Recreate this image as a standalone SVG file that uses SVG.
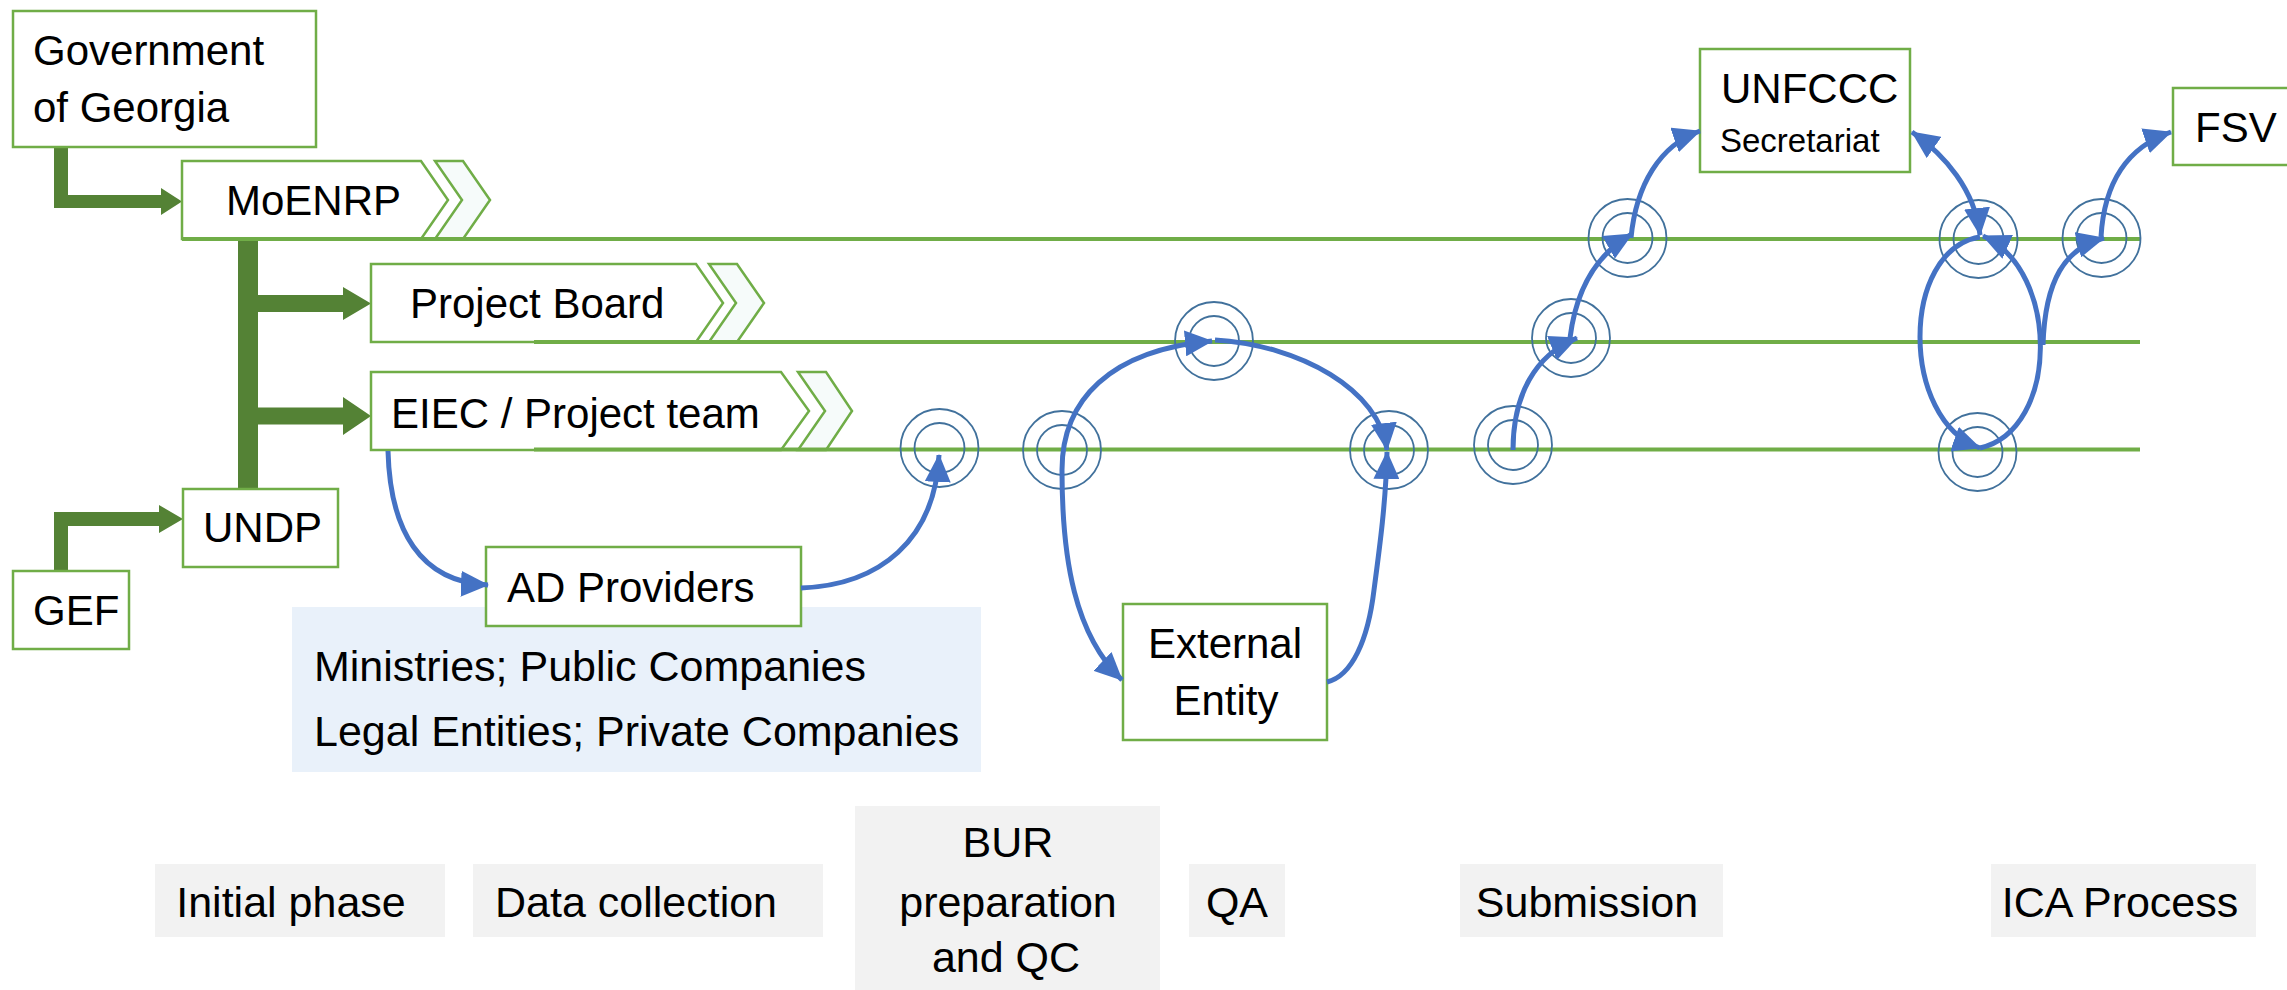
<svg xmlns="http://www.w3.org/2000/svg" width="2287" height="990" viewBox="0 0 2287 990">
<style>
.t{font-family:"Liberation Sans",Arial,sans-serif;font-size:42px;fill:#000}
.t43{font-size:43px}
.box{fill:#fff;stroke:#70AD47;stroke-width:2.5}
.chev{fill:#F6FBFA;stroke:#70AD47;stroke-width:2.5}
.lane{stroke:#70AD47;stroke-width:4;fill:none}
.phase{fill:#F2F2F2}
.dg{fill:#548235}
.ms{fill:none;stroke:#41719C;stroke-width:1.8}
.con{fill:none;stroke:#4472C4;stroke-width:5}
</style>
<defs>
<marker id="ah" viewBox="0 0 28 26" markerWidth="28" markerHeight="26" refX="27" refY="13" orient="auto-start-reverse" markerUnits="userSpaceOnUse">
<path d="M0,0 L28,13 L0,26 Z" fill="#4472C4"/>
</marker>
</defs>

<!-- phases -->
<g id="phases">
<rect class="phase" x="155" y="864" width="290" height="73"/>
<rect class="phase" x="473" y="864" width="350" height="73"/>
<rect class="phase" x="855" y="806" width="305" height="184"/>
<rect class="phase" x="1189" y="864" width="96" height="73"/>
<rect class="phase" x="1460" y="864" width="263" height="73"/>
<rect class="phase" x="1991" y="864" width="265" height="73"/>
<text class="t t43" x="291" y="917" text-anchor="middle">Initial phase</text>
<text class="t t43" x="636" y="917" text-anchor="middle">Data collection</text>
<text class="t t43" x="1008" y="857" text-anchor="middle">BUR</text>
<text class="t t43" x="1008" y="917" text-anchor="middle">preparation</text>
<text class="t t43" x="1006" y="972" text-anchor="middle">and QC</text>
<text class="t t43" x="1237" y="917" text-anchor="middle">QA</text>
<text class="t t43" x="1587" y="917" text-anchor="middle">Submission</text>
<text class="t t43" x="2120" y="917" text-anchor="middle">ICA Process</text>
</g>

<g id="ad-list">
<rect x="292" y="607" width="689" height="165" fill="#E9F1FA"/>
<text class="t t43" x="314" y="681">Ministries; Public Companies</text>
<text class="t t43" x="314" y="746">Legal Entities; Private Companies</text>
</g>

<!-- hierarchy arrows -->
<g id="hierarchy">
<path class="dg" d="M54,147 H68 V195 H161 V188 L182,201.5 L161,215 V208 H54 Z"/>
<rect class="dg" x="238" y="239" width="20" height="250"/>
<path class="dg" d="M258,295 H343 V287 L371,303.5 L343,320 V312 H258 Z"/>
<path class="dg" d="M258,407.5 H343 V397 L371,416 L343,435 V424.5 H258 Z"/>
<path class="dg" d="M54,571 V512 H159 V505 L183,519 L159,533 V526 H68 V571 Z"/>
</g>

<g id="gov"><rect class="box" x="13" y="11" width="303" height="136"/>
<text class="t" x="33" y="65">Government</text><text class="t" x="33" y="122">of Georgia</text></g>

<g id="moenrp">
<path class="box" d="M182,161 H421 L448,200 L421,239 H182 Z"/>
<path class="chev" d="M435,161 H463 L490,200 L463,239 H435 L462,200 Z"/>
<text class="t" x="226" y="215">MoENRP</text></g>

<g id="project-board">
<path class="box" d="M371,264 H696 L723,303 L696,342 H371 Z"/>
<path class="chev" d="M709,264 H737 L764,303 L737,342 H709 L736,303 Z"/>
<text class="t" x="410" y="318">Project Board</text></g>

<g id="eiec">
<path class="box" d="M371,372 H781 L809,411 L781,450 H371 Z"/>
<path class="chev" d="M798,372 H826 L852,411 L826,450 H798 L825,411 Z"/>
<text class="t" x="391" y="428">EIEC / Project team</text></g>

<g id="lanes">
<line class="lane" x1="182" y1="239" x2="2140" y2="239"/>
<line class="lane" x1="534" y1="342" x2="2140" y2="342"/>
<line class="lane" x1="534" y1="449.5" x2="2140" y2="449.5"/>
</g>

<g id="undp"><rect class="box" x="183" y="489" width="155" height="78"/><text class="t" x="203" y="542">UNDP</text></g>
<g id="gef"><rect class="box" x="13" y="571" width="116" height="78"/><text class="t" x="33" y="625">GEF</text></g>
<g id="ad-providers"><rect class="box" x="486" y="547" width="315" height="79"/><text class="t" x="507" y="602">AD Providers</text></g>
<g id="external-entity"><rect class="box" x="1123" y="604" width="204" height="136"/>
<text class="t" x="1225" y="658" text-anchor="middle">External</text><text class="t" x="1226" y="715" text-anchor="middle">Entity</text></g>
<g id="unfccc"><rect class="box" x="1700" y="49" width="210" height="123"/>
<text class="t" x="1721" y="103">UNFCCC</text><text class="t" x="1720" y="152" style="font-size:33px">Secretariat</text></g>
<g id="fsv"><rect class="box" x="2173" y="88" width="125" height="77"/><text class="t" x="2195" y="142">FSV</text></g>

<!-- milestones -->
<g id="m1"><circle class="ms" cx="939.5" cy="448" r="39"/><circle class="ms" cx="939.5" cy="448" r="25"/></g>
<g id="m2"><circle class="ms" cx="1062" cy="450" r="39"/><circle class="ms" cx="1062" cy="450" r="25"/></g>
<g id="m3"><circle class="ms" cx="1214" cy="341" r="39"/><circle class="ms" cx="1214" cy="341" r="25"/></g>
<g id="m4"><circle class="ms" cx="1389" cy="450" r="39"/><circle class="ms" cx="1389" cy="450" r="25"/></g>
<g id="m5"><circle class="ms" cx="1513" cy="445" r="39"/><circle class="ms" cx="1513" cy="445" r="25"/></g>
<g id="m6"><circle class="ms" cx="1571" cy="338" r="39"/><circle class="ms" cx="1571" cy="338" r="25"/></g>
<g id="m7"><circle class="ms" cx="1627.5" cy="238" r="39"/><circle class="ms" cx="1627.5" cy="238" r="25"/></g>
<g id="m8"><circle class="ms" cx="1978.5" cy="239" r="39"/><circle class="ms" cx="1978.5" cy="239" r="25"/></g>
<g id="m9"><circle class="ms" cx="2101.5" cy="238" r="39"/><circle class="ms" cx="2101.5" cy="238" r="25"/></g>
<g id="m10"><circle class="ms" cx="1977.5" cy="452" r="39"/><circle class="ms" cx="1977.5" cy="452" r="25"/></g>

<g id="connectors">
<path class="con" d="M388,451 C390,530 420,582 488,585" marker-end="url(#ah)"/>
<path class="con" d="M801,588 C880,585 935,540 939,455" marker-end="url(#ah)"/>
<path class="con" d="M1212,341 C1110,350 1062,400 1062,470 C1062,560 1075,635 1122,680" marker-start="url(#ah)" marker-end="url(#ah)"/>
<path class="con" d="M1215,340 C1300,345 1380,390 1387,450" marker-end="url(#ah)"/>
<path class="con" d="M1327,682 C1352,676 1368,640 1374,590 C1380,545 1386,500 1387,452" marker-end="url(#ah)"/>
<path class="con" d="M1513,450 C1513,395 1535,355 1577,338" marker-end="url(#ah)"/>
<path class="con" d="M1570,338 C1576,290 1595,255 1632,234" marker-end="url(#ah)"/>
<path class="con" d="M1631,238 C1636,185 1660,145 1700,131" marker-end="url(#ah)"/>
<path class="con" d="M1912,132 C1945,155 1975,190 1980,235" marker-start="url(#ah)" marker-end="url(#ah)"/>
<path class="con" d="M1980,237 C1900,250 1900,420 1980,448" marker-end="url(#ah)"/>
<path class="con" d="M1980,448 C2060,430 2060,270 1983,236" marker-end="url(#ah)"/>
<path class="con" d="M2043,345 C2045,280 2065,248 2104,238" marker-end="url(#ah)"/>
<path class="con" d="M2101,237 C2104,185 2125,148 2171,132" marker-end="url(#ah)"/>
</g>
</svg>
